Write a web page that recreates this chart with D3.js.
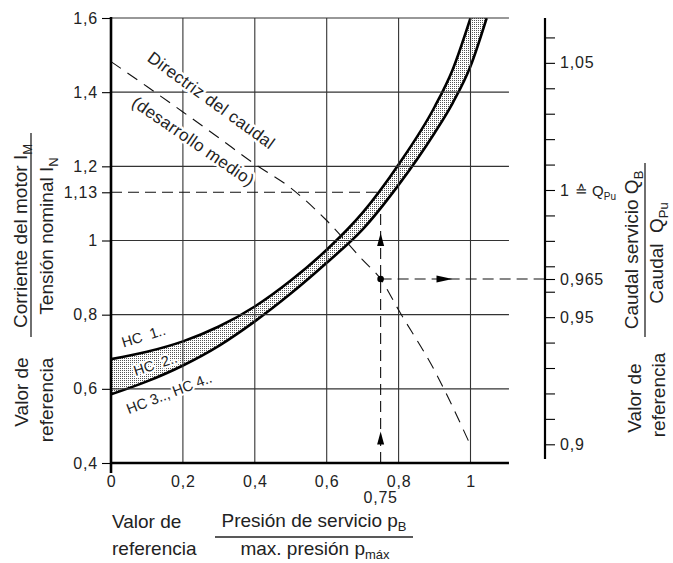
<!DOCTYPE html>
<html>
<head>
<meta charset="utf-8">
<script src="https://cdn.jsdelivr.net/npm/d3@7"></script>
<style>
body{margin:0;background:#fff;}
svg{display:block;font-family:"Liberation Sans","DejaVu Sans",Arial,sans-serif;}
</style>
</head>
<body>
<div id="chart"></div>
<script>
// tick values / labels
var xTicks = [0, 0.2, 0.4, 0.6, 0.8, 1];
var yTicks = [0.4, 0.6, 0.8, 1, 1.13, 1.2, 1.4, 1.6];
var yGrid = [0.6, 0.8, 1, 1.2, 1.4, 1.6];
var qTicks = [0.9, 0.91, 0.92, 0.93, 0.94, 0.95, 0.96, 0.965, 0.97, 0.98, 0.99, 1, 1.01, 1.02, 1.03, 1.04, 1.05, 1.06];
var qLabels = {"0.9": "0,9", "0.95": "0,95", "0.965": "0,965", "1": "1", "1.05": "1,05"};

// HC 1.. (upper edge of band)
var hcUpperX = [0, 0.1, 0.2, 0.3, 0.4, 0.5, 0.6, 0.7, 0.8, 0.9, 0.95, 1.0];
var hcUpperY = [0.68, 0.70, 0.728, 0.768, 0.822, 0.892, 0.975, 1.075, 1.205, 1.36, 1.46, 1.60];
// HC 3.., HC 4.. (lower edge of band)
var hcLowerX = [0, 0.1, 0.2, 0.3, 0.4, 0.5, 0.6, 0.7, 0.8, 0.9, 0.95, 1.0, 1.045];
var hcLowerY = [0.585, 0.62, 0.663, 0.716, 0.782, 0.857, 0.94, 1.03, 1.15, 1.29, 1.37, 1.47, 1.60];
// Directriz del caudal (Q/Q_Pu, right axis)
var flowX = [0, 0.1, 0.2, 0.3, 0.4, 0.5, 0.6, 0.7, 0.75, 0.8, 0.9, 1.0];
var flowQ = [1.0505, 1.0407, 1.0307, 1.0205, 1.0102, 1.0008, 0.988, 0.9725, 0.965, 0.9528, 0.929, 0.8996];

// reading example
var readX = 0.75, readY = 1.13, readQ = 0.965;
var arrowsUpY = [1.02, 0.485];
var arrowRightX = 0.95;

var W = 673, H = 563;
var xMax = 1.107;

var x = d3.scaleLinear().domain([0, 1]).range([111, 470.5]);
var y = d3.scaleLinear().domain([0.4, 1.6]).range([463, 18]);
var yR = d3.scaleLinear().domain([0.9, 1.0]).range([444.3, 190]);

function comma(d){ return String(d).replace(".", ","); }

function interp(xs, ys, v){
    for (var i = 0; i < xs.length - 1; i++) {
        if (v >= xs[i] && v <= xs[i+1]) {
            return ys[i] + (v - xs[i]) / (xs[i+1] - xs[i]) * (ys[i+1] - ys[i]);
        }
    }
    return ys[ys.length - 1];
}

var svg = d3.select("#chart").append("svg")
    .attr("width", W)
    .attr("height", H);

var defs = svg.append("defs");
var pat = defs.append("pattern")
    .attr("id", "stipple")
    .attr("patternUnits", "userSpaceOnUse")
    .attr("width", 2).attr("height", 2);
pat.append("rect").attr("x", 0).attr("y", 0).attr("width", 1).attr("height", 1).attr("fill", "#555");

defs.append("clipPath").attr("id", "plotclip")
    .append("rect")
    .attr("x", x(0)).attr("y", y(1.6))
    .attr("width", x(xMax) - x(0)).attr("height", y(0.4) - y(1.6));

var upperPts = hcUpperX.map(function(d, i){ return [d, hcUpperY[i]]; });
var lowerPts = hcLowerX.map(function(d, i){ return [d, hcLowerY[i]]; });
var flowPts = flowX.map(function(d, i){ return [d, flowQ[i]]; });

var hcLine = d3.line()
    .x(function(d){ return x(d[0]); })
    .y(function(d){ return y(d[1]); })
    .curve(d3.curveMonotoneX);

var flowLine = d3.line()
    .x(function(d){ return x(d[0]); })
    .y(function(d){ return yR(d[1]); })
    .curve(d3.curveMonotoneX);

var plot = svg.append("g").attr("clip-path", "url(#plotclip)");

// stippled band
var bandPath = hcLine(upperPts) + "L" + hcLine(lowerPts.slice().reverse()).slice(1) + "Z";
plot.append("path")
    .attr("d", bandPath)
    .attr("fill", "url(#stipple)")
    .attr("stroke", "none");

// grid
svg.append("g").selectAll("line.vgrid")
    .data(xTicks.filter(function(d){ return d > 0; }))
    .enter().append("line")
    .attr("class", "vgrid")
    .attr("x1", function(d){ return x(d); })
    .attr("x2", function(d){ return x(d); })
    .attr("y1", y(0.4))
    .attr("y2", y(1.6))
    .attr("stroke", "#333")
    .attr("stroke-width", 1.1);

svg.append("g").selectAll("line.hgrid")
    .data(yGrid)
    .enter().append("line")
    .attr("class", "hgrid")
    .attr("x1", x(0))
    .attr("x2", x(xMax))
    .attr("y1", function(d){ return y(d); })
    .attr("y2", function(d){ return y(d); })
    .attr("stroke", "#333")
    .attr("stroke-width", 1.1);

// reading construction
var lowerAtRead = interp(hcLowerX, hcLowerY, readX);
var upperXAtRead = interp(hcUpperY, hcUpperX, readY);
var cons = svg.append("g")
    .attr("fill", "none")
    .attr("stroke", "#111")
    .attr("stroke-width", 1.1)
    .attr("stroke-dasharray", "11,6");
cons.append("line")
    .attr("x1", x(0)).attr("x2", x(upperXAtRead))
    .attr("y1", y(readY)).attr("y2", y(readY));
cons.append("line")
    .attr("x1", x(readX)).attr("x2", x(readX))
    .attr("y1", y(0.4)).attr("y2", y(lowerAtRead));
cons.append("line")
    .attr("x1", x(readX)).attr("x2", 545)
    .attr("y1", yR(readQ)).attr("y2", yR(readQ));

// text labels with white halo
function halo(sel, w){
    return sel.attr("stroke", "#fff")
        .attr("stroke-width", w)
        .attr("stroke-linejoin", "round")
        .attr("paint-order", "stroke");
}

var notes = svg.append("g").attr("fill", "#222");
halo(notes.append("text")
    .attr("transform", "translate(208,105) rotate(36)")
    .attr("text-anchor", "middle")
    .attr("font-size", 17)
    .attr("letter-spacing", 0.4)
    .text("Directriz del caudal"), 5);
halo(notes.append("text")
    .attr("transform", "translate(190,146) rotate(34.5)")
    .attr("text-anchor", "middle")
    .attr("font-size", 17)
    .attr("letter-spacing", 0.4)
    .text("(desarrollo medio)"), 5);

var hcLabels = [
    {t: "HC\u00a0\u00a01..", px: 145, py: 341, r: -17},
    {t: "HC\u00a0\u00a02..", px: 157, py: 369, r: -18},
    {t: "HC 3.., HC 4..", px: 171, py: 398, r: -21}
];
halo(notes.selectAll("text.hc")
    .data(hcLabels)
    .enter().append("text")
    .attr("class", "hc")
    .attr("transform", function(d){ return "translate(" + d.px + "," + d.py + ") rotate(" + d.r + ")"; })
    .attr("text-anchor", "middle")
    .attr("font-size", 14.5)
    .text(function(d){ return d.t; }), 4);

// curves
plot.append("path")
    .attr("d", hcLine(upperPts))
    .attr("fill", "none").attr("stroke", "#000").attr("stroke-width", 2.6);
plot.append("path")
    .attr("d", hcLine(lowerPts))
    .attr("fill", "none").attr("stroke", "#000").attr("stroke-width", 2.6);

svg.append("path")
    .attr("d", flowLine(flowPts))
    .attr("fill", "none")
    .attr("stroke", "#111")
    .attr("stroke-width", 1.1)
    .attr("stroke-dasharray", "12,8");

// arrows and dot
var arrows = svg.append("g").attr("fill", "#000");
arrows.selectAll("path.up")
    .data(arrowsUpY)
    .enter().append("path")
    .attr("class", "up")
    .attr("d", function(d){
        var cx = x(readX), ty = y(d);
        return "M" + cx + "," + ty + "L" + (cx - 3.5) + "," + (ty + 13) + "L" + (cx + 3.5) + "," + (ty + 13) + "Z";
    });
arrows.append("path")
    .attr("d", function(){
        var tx = x(arrowRightX), cy = yR(readQ);
        return "M" + tx + "," + cy + "L" + (tx - 16) + "," + (cy - 3.5) + "L" + (tx - 16) + "," + (cy + 3.5) + "Z";
    });
arrows.append("circle")
    .attr("cx", x(readX)).attr("cy", yR(readQ)).attr("r", 3.3);

// left axis
var gLeft = svg.append("g")
    .attr("transform", "translate(" + x(0) + ",0)")
    .call(d3.axisLeft(y).tickValues(yTicks).tickFormat(comma).tickSize(9).tickPadding(4));
gLeft.select(".domain").remove();
gLeft.selectAll(".tick line").attr("stroke", "#000").attr("stroke-width", 1.1);
gLeft.selectAll(".tick text")
    .attr("font-size", 16).attr("fill", "#222")
    .attr("letter-spacing", 0.8)
    .attr("font-family", null);

svg.append("line")
    .attr("x1", x(0)).attr("x2", x(0))
    .attr("y1", y(1.6) - 1).attr("y2", y(0.4) + 10)
    .attr("stroke", "#000").attr("stroke-width", 2.6);

// bottom axis
var gBottom = svg.append("g")
    .attr("transform", "translate(0," + y(0.4) + ")")
    .call(d3.axisBottom(x).tickValues(xTicks).tickFormat(comma).tickSize(0).tickPadding(13));
gBottom.select(".domain").remove();
gBottom.selectAll(".tick text")
    .attr("font-size", 16).attr("fill", "#222")
    .attr("letter-spacing", 0.8)
    .attr("font-family", null);

svg.append("line")
    .attr("x1", x(0) - 1).attr("x2", x(xMax))
    .attr("y1", y(0.4)).attr("y2", y(0.4))
    .attr("stroke", "#000").attr("stroke-width", 2.6);

svg.append("text")
    .attr("x", x(readX))
    .attr("y", y(0.4) + 40)
    .attr("text-anchor", "middle")
    .attr("font-size", 16)
    .attr("letter-spacing", 0.8)
    .attr("fill", "#222")
    .text(comma(readX));

// right axis (flow ratio)
var gRight = svg.append("g")
    .attr("transform", "translate(545,0)")
    .call(d3.axisRight(yR).tickValues(qTicks)
        .tickFormat(function(d){ return qLabels[String(d)] || ""; })
        .tickSize(10).tickPadding(5));
gRight.select(".domain").remove();
gRight.selectAll(".tick line").attr("stroke", "#000").attr("stroke-width", 1.1);
gRight.selectAll(".tick text")
    .attr("font-size", 16).attr("fill", "#222")
    .attr("letter-spacing", 0.8)
    .attr("font-family", null);
gRight.selectAll(".tick").filter(function(d){ return d === 1; })
    .select("text")
    .each(function(){
        var t = d3.select(this);
        t.text("1 ");
        t.append("tspan").attr("font-size", 15).attr("letter-spacing", 0).text("\u2259 Q");
        t.append("tspan").attr("font-size", 10).attr("dy", 4).attr("letter-spacing", 0).text("Pu");
    });

svg.append("line")
    .attr("x1", 545).attr("x2", 545)
    .attr("y1", y(1.6)).attr("y2", 459)
    .attr("stroke", "#000").attr("stroke-width", 2.2);

// axis titles
var titles = svg.append("g").attr("fill", "#222").attr("font-size", 19);

function vtext(bx, cy, parts){
    var t = titles.append("text")
        .attr("transform", "translate(" + bx + "," + cy + ") rotate(-90)")
        .attr("text-anchor", "middle");
    parts.forEach(function(p){
        var s = t.append("tspan").text(p.t);
        if (p.sub) s.attr("font-size", 13).attr("dy", 5);
    });
    return t;
}

vtext(28, 392, [{t: "Valor de"}]);
vtext(53, 400, [{t: "referencia"}]);
vtext(27, 236, [{t: "Corriente del motor I"}, {t: "M", sub: true}]);
vtext(53, 236, [{t: "Tensi\u00f3n nominal I"}, {t: "N", sub: true}]);
titles.append("line")
    .attr("x1", 31).attr("x2", 31).attr("y1", 133).attr("y2", 337)
    .attr("stroke", "#222").attr("stroke-width", 1.3);

vtext(638, 250, [{t: "Caudal servicio Q"}, {t: "B", sub: true}]);
vtext(663, 253, [{t: "Caudal\u00a0\u00a0Q"}, {t: "Pu", sub: true}]);
titles.append("line")
    .attr("x1", 645).attr("x2", 645).attr("y1", 163).attr("y2", 337)
    .attr("stroke", "#222").attr("stroke-width", 1.3);
vtext(641, 398, [{t: "Valor de"}]);
vtext(665, 395, [{t: "referencia"}]);

titles.append("text").attr("x", 112).attr("y", 528).text("Valor de");
titles.append("text").attr("x", 112).attr("y", 555).text("referencia");
var num = titles.append("text").attr("x", 314).attr("y", 527).attr("text-anchor", "middle");
num.append("tspan").text("Presi\u00f3n de servicio p");
num.append("tspan").attr("font-size", 13).attr("dy", 4).text("B");
var den = titles.append("text").attr("x", 315).attr("y", 555).attr("text-anchor", "middle");
den.append("tspan").text("max. presi\u00f3n p");
den.append("tspan").attr("font-size", 13).attr("dy", 4).text("m\u00e1x");
titles.append("line")
    .attr("x1", 215).attr("x2", 413).attr("y1", 537).attr("y2", 537)
    .attr("stroke", "#222").attr("stroke-width", 1.3);
</script>
</body>
</html>
